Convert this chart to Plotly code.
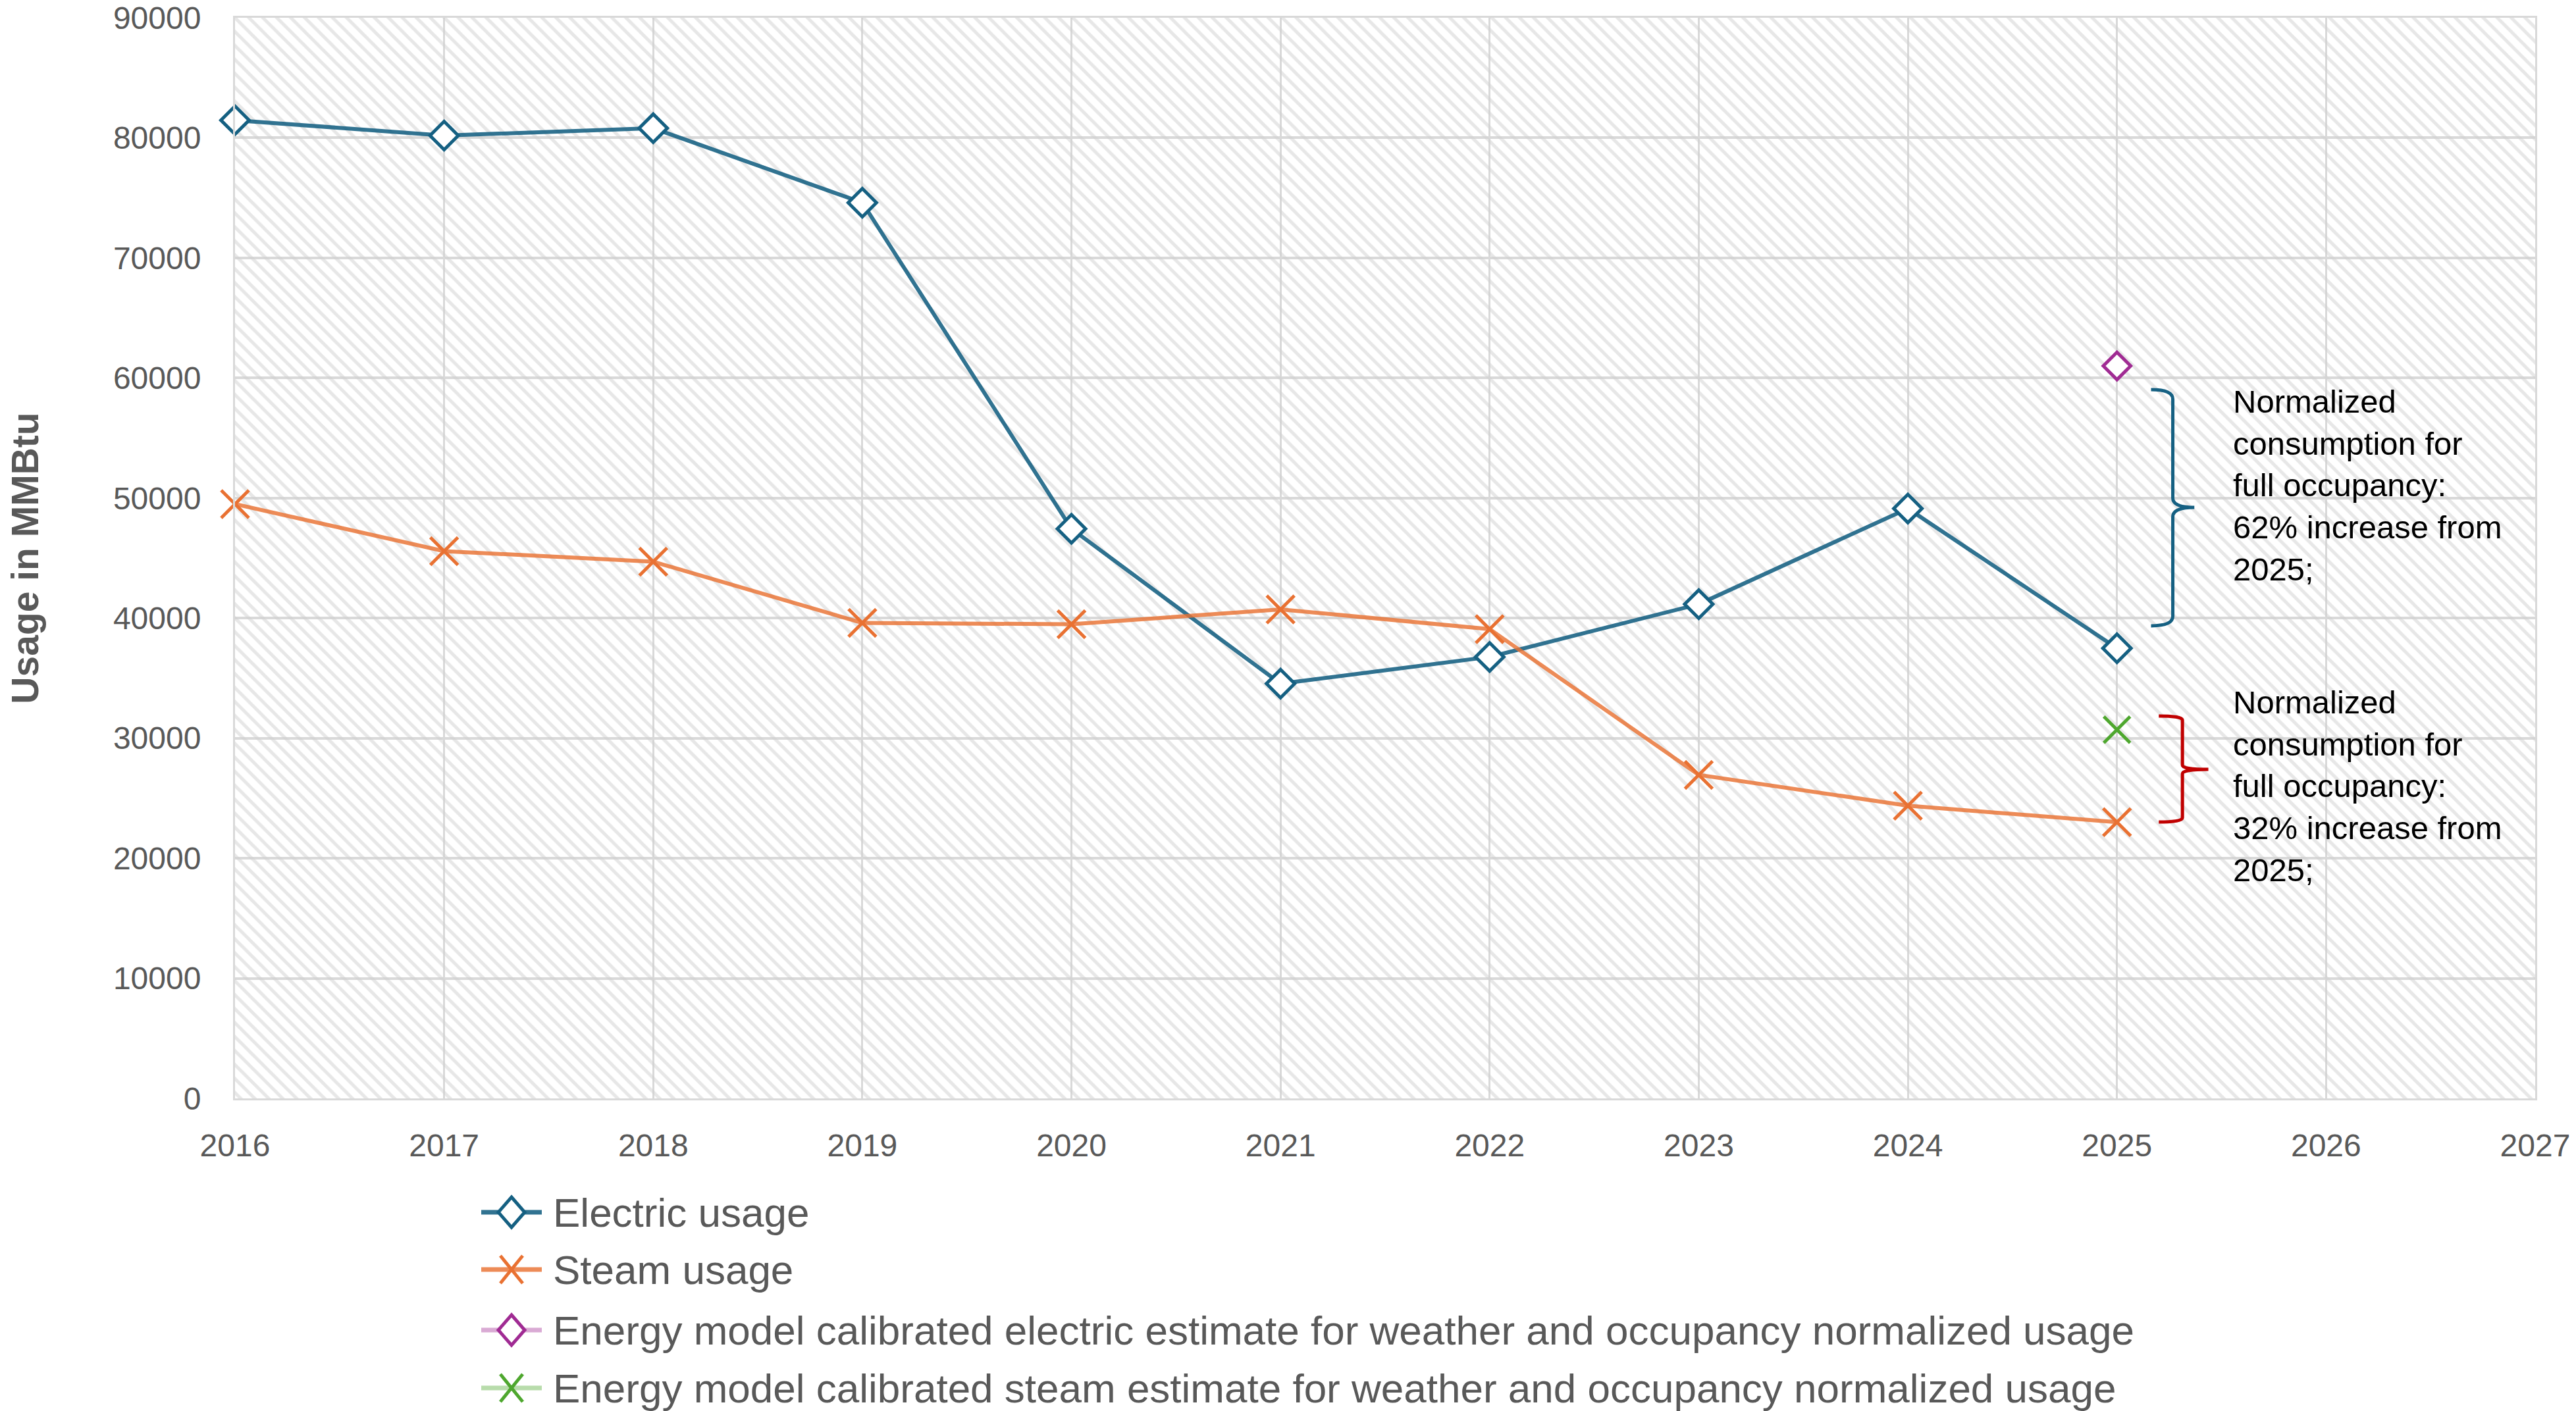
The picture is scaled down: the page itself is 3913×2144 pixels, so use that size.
import plotly.graph_objects as go

# ---------------- data ----------------
years = [2016, 2017, 2018, 2019, 2020, 2021, 2022, 2023, 2024, 2025]
electric_usage = [81470, 80190, 80800, 74600, 47440, 34540, 36770, 41160, 49130, 37490]
steam_usage = [49500, 45580, 44700, 39600, 39490, 40730, 39080, 26940, 24380, 23010]
estimate_year = [2025]
electric_estimate = [61000]
steam_estimate = [30710]

x_range = [2016, 2027]
y_range = [0, 90000]
y_tick_step = 10000

series_names = [
    "Electric usage",
    "Steam usage",
    "Energy model calibrated electric estimate for weather and occupancy normalized usage",
    "Energy model calibrated steam estimate for weather and occupancy normalized usage",
]

note_electric = "Normalized<br>consumption for<br>full occupancy:<br>62% increase from<br>2025;"
note_steam = "Normalized<br>consumption for<br>full occupancy:<br>32% increase from<br>2025;"

# brace extents (data coordinates): x of hook, spine, tip; y of top, middle, bottom
brace_electric = dict(x=[2025.163, 2025.267, 2025.370], y=[59030, 49220, 39360])
brace_steam = dict(x=[2025.200, 2025.313, 2025.437], y=[31850, 27400, 23020])
note_x = 2025.55
note_y = [51030, 26000]

# ---------------- styles / layout geometry (pixels) ----------------
W, H = 3913, 2144
PL, PR, PT, PB = 357, 3851, 27, 1669          # plot area edges
LEG_ROWS = [1842, 1929, 2021, 2109]           # legend row centres
LEG_LINE = (731, 823)                         # legend glyph line extent
LEG_MARK = 777                                # legend marker centre
LEG_TEXT = 838                                # legend text left

C_ELEC = "#156082"
C_STEAM = "#E97132"
C_PURPLE = "#A02B93"
C_GREEN = "#4EA72E"
LINE_COLORS = ["rgba(21,96,130,0.88)", "rgba(233,113,50,0.82)",
               "rgba(160,43,147,0.4)", "rgba(78,167,46,0.4)"]
MARK_COLORS = [C_ELEC, C_STEAM, C_PURPLE, C_GREEN]
MARK_KINDS = ["diamond", "x", "diamond", "x"]
GRID = "#D9D9D9"
TEXT = "#595959"
FONT = "Liberation Sans, Arial, sans-serif"


def pxx(px):
    return (px - PL) / (PR - PL)


def pxy(py):
    return (PB - py) / (PB - PT)


fig = go.Figure()

# hatched plot-area background
fig.add_trace(go.Scatter(
    x=[x_range[0], x_range[1], x_range[1], x_range[0], x_range[0]],
    y=[y_range[0], y_range[0], y_range[1], y_range[1], y_range[0]],
    mode="lines", line=dict(width=0, color="rgba(0,0,0,0)"),
    fill="toself", fillcolor="rgba(0,0,0,0)",
    fillpattern=dict(shape="\\", size=15, solidity=0.33,
                     fgcolor="#CFCFCF", bgcolor="rgba(255,255,255,0)"),
    hoverinfo="skip", showlegend=False,
))

fig.add_trace(go.Scatter(
    x=years, y=electric_usage, name=series_names[0],
    mode="lines+markers", cliponaxis=False,
    line=dict(color=LINE_COLORS[0], width=6),
    marker=dict(symbol="diamond", size=33, color="white",
                line=dict(color=C_ELEC, width=5)),
))
fig.add_trace(go.Scatter(
    x=years, y=steam_usage, name=series_names[1],
    mode="lines+markers", cliponaxis=False,
    line=dict(color=LINE_COLORS[1], width=6),
    marker=dict(symbol="x-thin", size=42, color=C_STEAM,
                line=dict(color=C_STEAM, width=5)),
))
fig.add_trace(go.Scatter(
    x=estimate_year, y=electric_estimate, name=series_names[2],
    mode="lines+markers", cliponaxis=False,
    line=dict(color=LINE_COLORS[2], width=6),
    marker=dict(symbol="diamond", size=32, color="white",
                line=dict(color=C_PURPLE, width=5)),
))
fig.add_trace(go.Scatter(
    x=estimate_year, y=steam_estimate, name=series_names[3],
    mode="lines+markers", cliponaxis=False,
    line=dict(color=LINE_COLORS[3], width=6),
    marker=dict(symbol="x-thin", size=40, color=C_GREEN,
                line=dict(color=C_GREEN, width=5)),
))


def brace_path(b):
    xh, xs, xt = b["x"]
    yt, ym, yb = b["y"]
    dy = (yt - yb) * 0.04
    return (f"M {xh},{yt} Q {xs},{yt} {xs},{yt - dy} "
            f"L {xs},{ym + dy} Q {xs},{ym} {xt},{ym} "
            f"Q {xs},{ym} {xs},{ym - dy} "
            f"L {xs},{yb + dy} Q {xs},{yb} {xh},{yb}")


fig.add_shape(type="path", path=brace_path(brace_electric), xref="x", yref="y",
              line=dict(color=C_ELEC, width=5))
fig.add_shape(type="path", path=brace_path(brace_steam), xref="x", yref="y",
              line=dict(color="#C00000", width=5))

for txt, yv in zip([note_electric, note_steam], note_y):
    fig.add_annotation(x=note_x, y=yv, xref="x", yref="y", text=txt,
                       showarrow=False, xanchor="left", yanchor="middle", align="left",
                       font=dict(family=FONT, size=49, color="#000000"))

# ---------------- custom legend (glyphs + labels) ----------------
for name, row, lc, mc, kind in zip(series_names, LEG_ROWS, LINE_COLORS, MARK_COLORS, MARK_KINDS):
    fig.add_shape(type="line", xref="paper", yref="paper",
                  x0=pxx(LEG_LINE[0]), x1=pxx(LEG_LINE[1]), y0=pxy(row), y1=pxy(row),
                  line=dict(color=lc, width=7))
    cx = LEG_MARK
    if kind == "diamond":
        pts = [(cx, row - 23), (cx + 20, row), (cx, row + 23), (cx - 20, row)]
        path = "M " + " L ".join(f"{pxx(a)},{pxy(b)}" for a, b in pts) + " Z"
        fig.add_shape(type="path", xref="paper", yref="paper", path=path,
                      fillcolor="white", line=dict(color=mc, width=5))
    else:
        for (a0, b0, a1, b1) in [(cx - 17, row - 21, cx + 17, row + 21),
                                 (cx - 17, row + 21, cx + 17, row - 21)]:
            fig.add_shape(type="line", xref="paper", yref="paper",
                          x0=pxx(a0), y0=pxy(b0), x1=pxx(a1), y1=pxy(b1),
                          line=dict(color=mc, width=5))
    fig.add_annotation(x=pxx(LEG_TEXT), y=pxy(row), xref="paper", yref="paper",
                       text=name, showarrow=False, xanchor="left", yanchor="middle",
                       font=dict(family=FONT, size=62, color=TEXT))

fig.update_layout(
    width=W, height=H,
    margin=dict(l=PL, r=W - PR, t=PT, b=H - PB),
    paper_bgcolor="white", plot_bgcolor="white",
    font=dict(family=FONT, color=TEXT),
    showlegend=False,
)
fig.update_xaxes(
    range=x_range, dtick=1, tick0=x_range[0], automargin=False,
    showgrid=True, gridcolor=GRID, gridwidth=3,
    showline=True, linecolor=GRID, linewidth=3, mirror=True,
    zeroline=False, ticks="", ticklabelstandoff=27,
    tickfont=dict(family=FONT, size=48, color=TEXT),
)
fig.update_yaxes(
    range=y_range, dtick=y_tick_step, tick0=0, tickformat="d", automargin=False,
    showgrid=True, gridcolor=GRID, gridwidth=4,
    showline=True, linecolor=GRID, linewidth=3, mirror=True,
    zeroline=False, ticks="", ticklabelstandoff=39,
    tickfont=dict(family=FONT, size=48, color=TEXT),
    title=dict(text="<b>Usage in MMBtu</b>", standoff=95,
               font=dict(family=FONT, size=57, color=TEXT)),
)

fig.write_html("out.html")
